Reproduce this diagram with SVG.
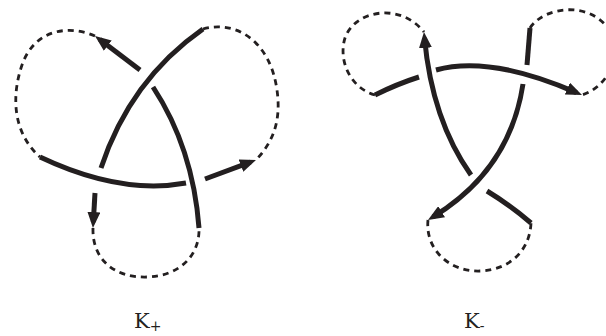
<svg xmlns="http://www.w3.org/2000/svg" width="606" height="336" viewBox="0 0 606 336">
<style>
.s{fill:none;stroke:#231f20;stroke-width:5;stroke-linecap:butt}
.d{fill:none;stroke:#231f20;stroke-width:2.8;stroke-dasharray:6 5}
.a{marker-end:url(#ah)}
.lbl{font-family:"DejaVu Serif","Liberation Serif",serif;font-size:21px;fill:#231f20}
</style>
<defs>
<marker id="ah" markerUnits="userSpaceOnUse" viewBox="0 0 16 13" markerWidth="16" markerHeight="13" refX="10" refY="6.5" orient="auto">
<path d="M0,0 L16,6.5 L0,13 z" fill="#231f20"/>
</marker>
</defs>
<g id="Kplus">
<g id="kp-dashed">
<path class="d" d="M95,36 C70,25 35,28 22,65 C10,100 15,135 40,157"/>
<path class="d" d="M203,29 C235,20 270,40 277,90 C282,125 270,145 256,160"/>
<path class="d" d="M93,228 C92,260 115,278 147,277 C180,276 200,255 199,228"/>
</g>
<g id="kp-strands">
<path class="s" d="M203,29 Q130,80 101,168"/>
<path class="s a" d="M140,70 L99.8,39.6"/>
<path class="s" d="M153,87 Q193,148 199,228"/>
<path class="s" d="M40,157 Q120,195 186,183"/>
<path class="s a" d="M205,179 L250.4,162.1"/>
<path class="s a" d="M95,193 L93.3,222"/>
</g>
<text class="lbl" x="134" y="328">K<tspan font-size="14" dy="3">+</tspan></text>
</g>
<g id="Kminus">
<g id="km-dashed">
<path class="d" d="M375,95 C350,88 338,60 345,38 C355,10 400,2 424,32"/>
<path class="d" d="M530,28 C545,5 595,0 612,35 C622,60 605,88 582,95"/>
<path class="d" d="M428,220 C425,250 450,272 480,271 C510,270 530,250 531,223"/>
</g>
<g id="km-strands">
<path class="s a" d="M471,175 Q432,120 424.5,38"/>
<path class="s" d="M375,95 Q397,84 419,77"/>
<path class="s a" d="M436,70 Q490,55 576.5,92.6"/>
<path class="s" d="M530,28 L527,65"/>
<path class="s a" d="M523,84 Q510,170 433.1,216.9"/>
<path class="s" d="M487,191 Q510,205 531,223"/>
</g>
<text class="lbl" x="464" y="328">K<tspan font-size="14" dy="3">-</tspan></text>
</g>
</svg>
